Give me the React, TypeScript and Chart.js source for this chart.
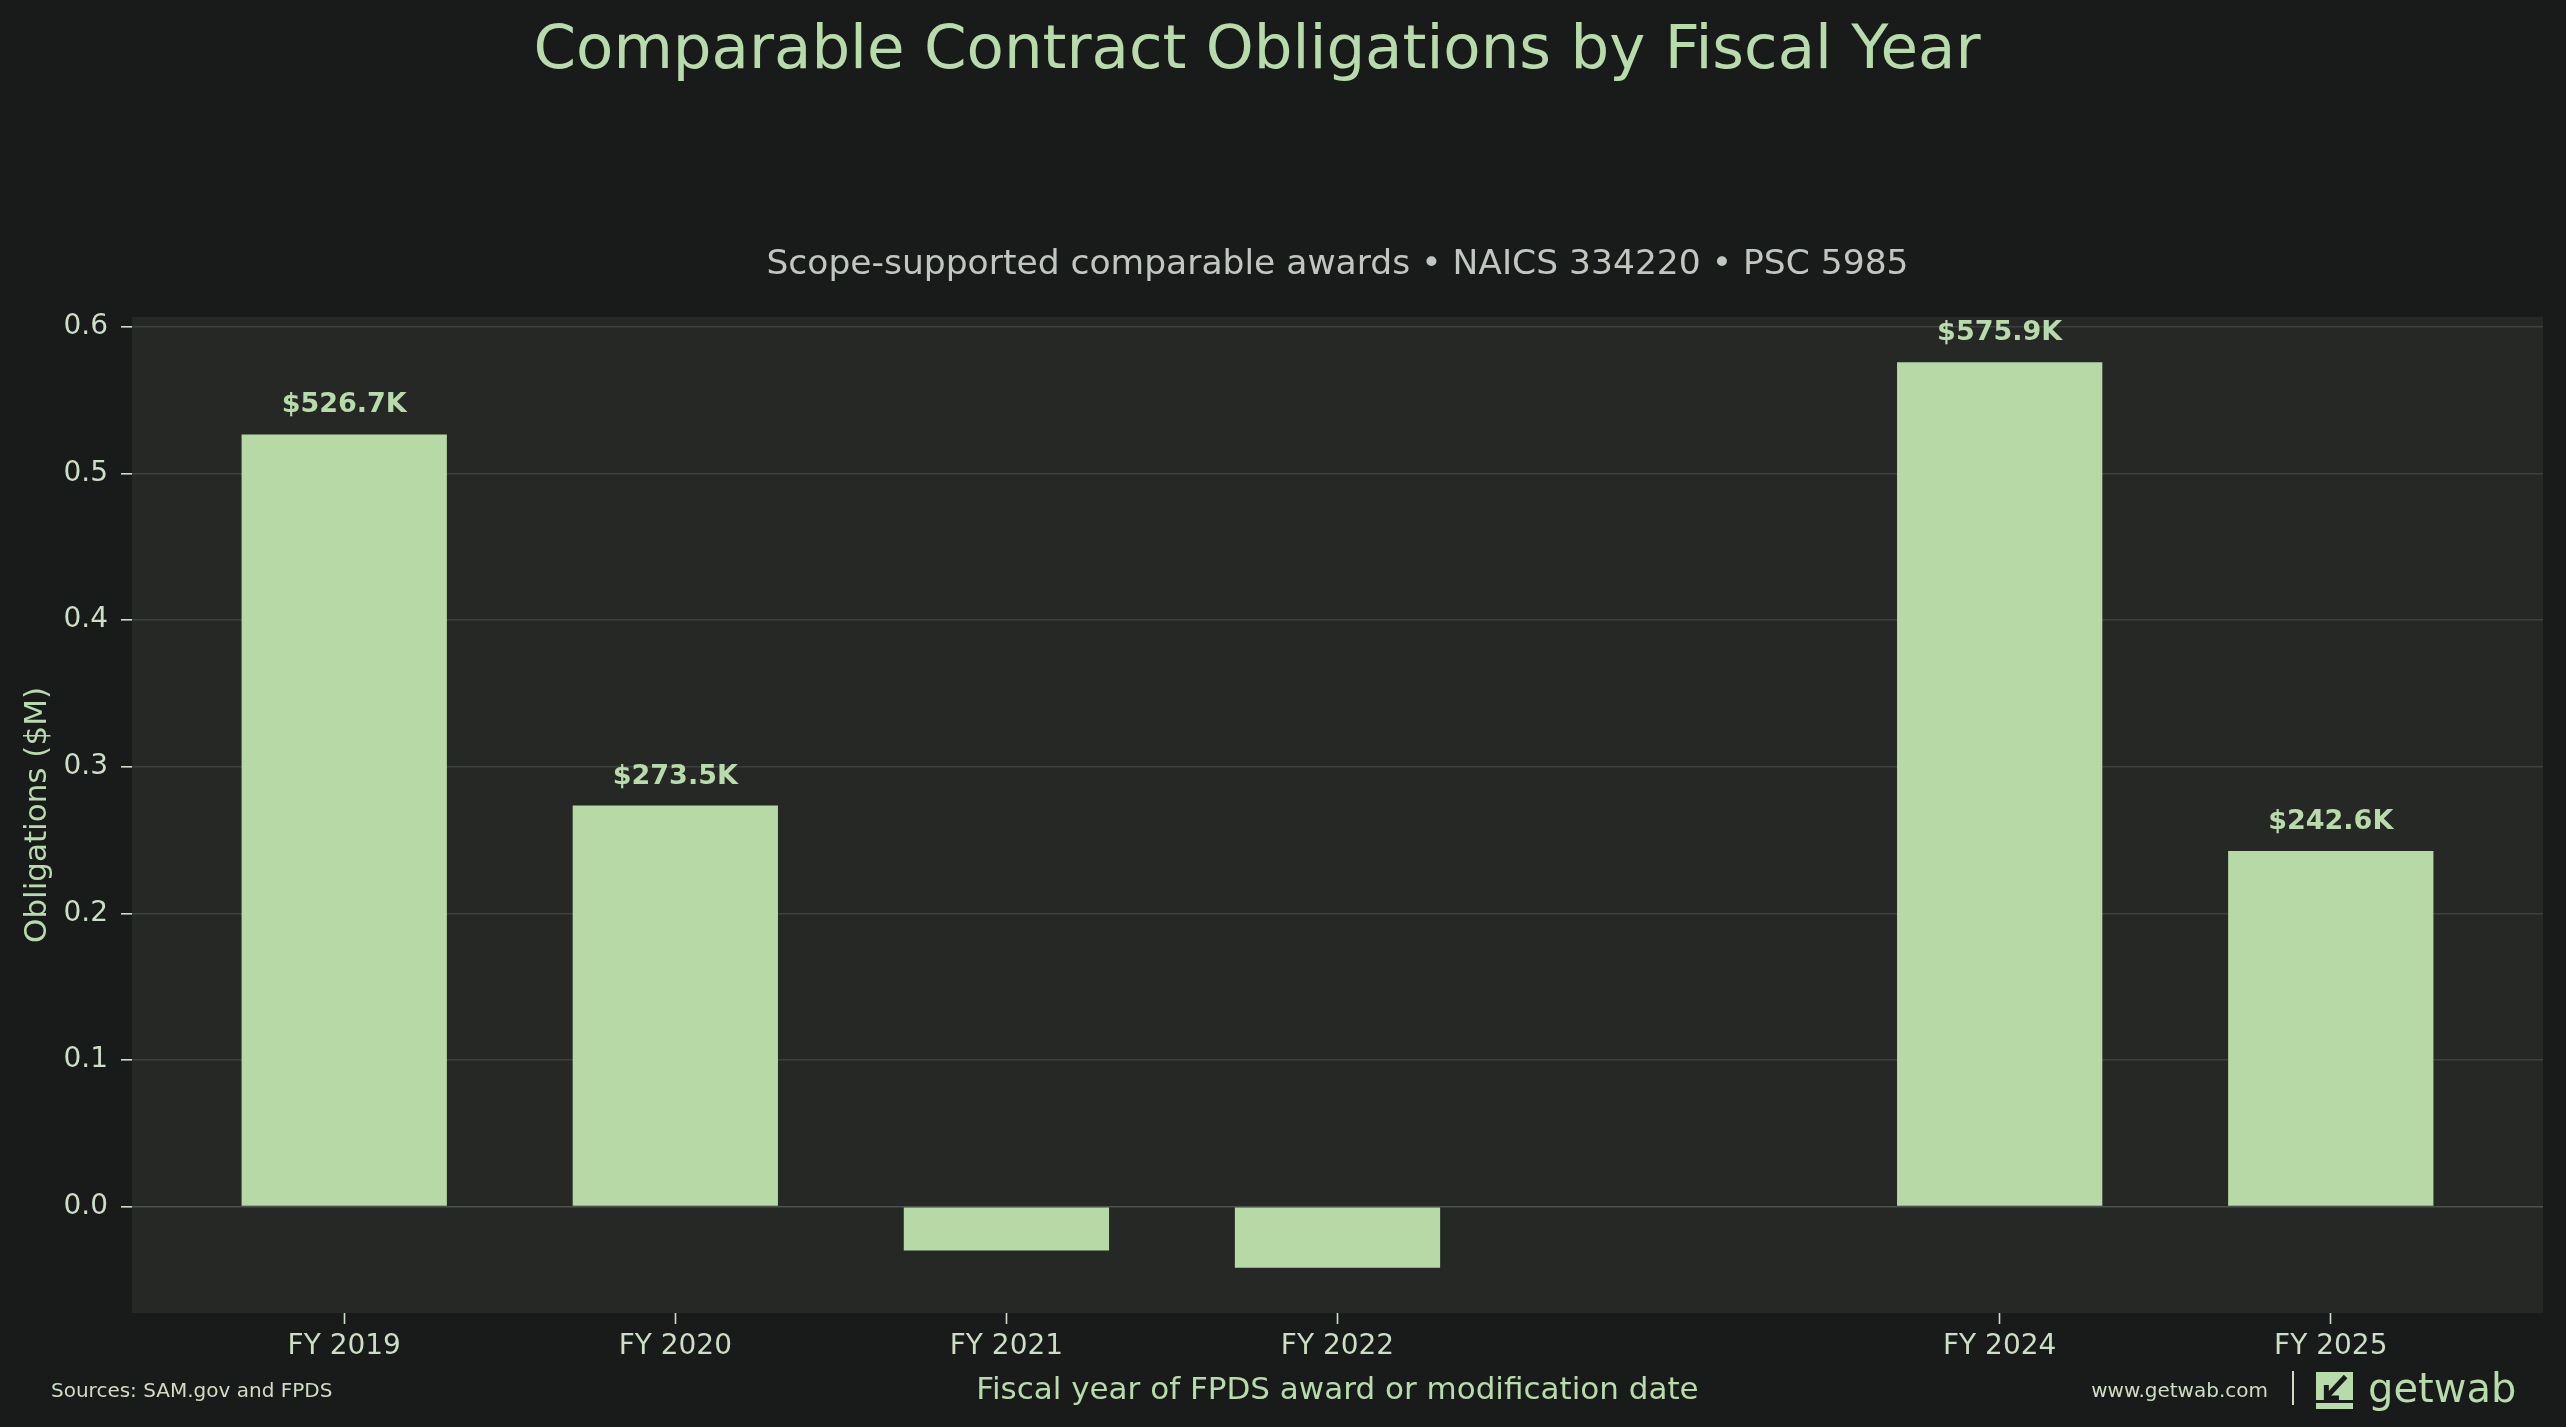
import { useEffect, useRef } from 'react'
import Chart from 'chart.js/auto'

// fiscal years with obligations (FY 2023 has no comparable awards)
const years = [2019, 2020, 2021, 2022, 2024, 2025]
// obligations in $M
const obligations = [0.5267, 0.2735, -0.030, -0.0417, 0.5759, 0.2426]
const yTicks = [0, 0.1, 0.2, 0.3, 0.4, 0.5, 0.6]

const TITLE = 'Comparable Contract Obligations by Fiscal Year'
const SUBTITLE = 'Scope-supported comparable awards • NAICS 334220 • PSC 5985'
const X_TITLE = 'Fiscal year of FPDS award or modification date'
const Y_TITLE = 'Obligations ($M)'
const SOURCES = 'Sources: SAM.gov and FPDS'
const SITE = 'www.getwab.com'
const BRAND = 'getwab'

const W = 2566
const H = 1427
const FONT = '"DejaVu Sans", "Noto Sans", sans-serif'
const BG = '#181b1a'
const PLOT_BG = '#262826'
const BAR = '#b6d9a6'
const GREEN = '#b8dbac'
const TICK_TXT = '#cbdfc4'
const GRID = '#3b413c'
const ZERO = '#4b514c'
const SUB = '#c2c6c1'

const BAR_W = 0.62
const xLo = years[0] - BAR_W / 2
const xHi = years[years.length - 1] + BAR_W / 2
const xPad = (xHi - xLo) * 0.05
const vMin = Math.min(...obligations)
const vMax = Math.max(...obligations)
const yPad = (vMax - vMin) * 0.05

const fmtK = (v: number) => '$' + (v * 1000).toFixed(1) + 'K'

const decor = {
  id: 'decor',
  beforeDraw(chart: any) {
    const { ctx, chartArea: a, width, height } = chart
    ctx.save()
    ctx.fillStyle = BG
    ctx.fillRect(0, 0, width, height)
    ctx.fillStyle = PLOT_BG
    ctx.fillRect(a.left, a.top, a.right - a.left, a.bottom - a.top)
    ctx.restore()
  },
  afterDatasetsDraw(chart: any) {
    const { ctx } = chart
    const meta = chart.getDatasetMeta(0)
    ctx.save()
    ctx.fillStyle = GREEN
    ctx.font = `bold 27px ${FONT}`
    ctx.textAlign = 'center'
    ctx.textBaseline = 'alphabetic'
    meta.data.forEach((bar: any, i: number) => {
      const v = obligations[i]
      if (v <= 0) return
      ctx.fillText(fmtK(v), bar.x, bar.y - 22)
    })
    ctx.restore()
  },
  afterDraw(chart: any) {
    const { ctx, chartArea: a, width, height } = chart
    ctx.save()
    ctx.textBaseline = 'alphabetic'
    // title
    ctx.fillStyle = GREEN
    ctx.font = `61px ${FONT}`
    ctx.textAlign = 'center'
    ctx.fillText(TITLE, width / 2 - 26, 68)
    // subtitle, centred on the plot
    ctx.fillStyle = SUB
    ctx.font = `34.5px ${FONT}`
    ctx.fillText(SUBTITLE, (a.left + a.right) / 2, a.top - 43)
    // footer
    ctx.fillStyle = TICK_TXT
    ctx.font = `20px ${FONT}`
    ctx.textAlign = 'left'
    ctx.fillText(SOURCES, 51, height - 30)
    ctx.textAlign = 'right'
    ctx.fillText(SITE, width - 298, height - 30)
    ctx.fillRect(width - 274, height - 56, 2, 34)
    // logo mark
    const lx = width - 250, ly = height - 55, ls = 37
    ctx.fillStyle = GREEN
    ctx.fillRect(lx, ly, ls, ls)
    ctx.strokeStyle = BG
    ctx.lineWidth = 5
    ctx.beginPath()
    ctx.moveTo(lx + ls * 0.8, ly + ls * 0.12)
    ctx.lineTo(lx + ls * 0.3, ly + ls * 0.66)
    ctx.stroke()
    ctx.beginPath()
    ctx.moveTo(lx + ls * 0.28, ly + ls * 0.35)
    ctx.lineTo(lx + ls * 0.28, ly + ls * 0.7)
    ctx.lineTo(lx + ls * 0.62, ly + ls * 0.7)
    ctx.stroke()
    ctx.beginPath()
    ctx.moveTo(lx, ly + ls * 0.8)
    ctx.lineTo(lx + ls, ly + ls * 0.8)
    ctx.lineWidth = 3
    ctx.stroke()
    ctx.fillStyle = GREEN
    ctx.font = `40px ${FONT}`
    ctx.textAlign = 'left'
    ctx.fillText(BRAND, width - 198, height - 25)
    ctx.restore()
  },
}

export default function App() {
  const ref = useRef<HTMLCanvasElement>(null)
  useEffect(() => {
    if (!ref.current) return
    const chart = new Chart(ref.current, {
      type: 'bar',
      data: {
        datasets: [{
          data: years.map((x, i) => ({ x, y: obligations[i] })),
          backgroundColor: BAR,
          borderWidth: 0,
          barPercentage: BAR_W,
          categoryPercentage: 1,
        }],
      },
      options: {
        animation: false,
        responsive: false,
        devicePixelRatio: 1,
        events: [],
        layout: { padding: { top: 317, right: 23, bottom: 0, left: 0 } },
        plugins: { legend: { display: false }, tooltip: { enabled: false }, title: { display: false } },
        scales: {
          x: {
            type: 'linear',
            bounds: 'data',
            offset: false,
            min: xLo - xPad,
            max: xHi + xPad,
            afterBuildTicks: (s: any) => { s.ticks = years.map(v => ({ value: v })) },
            afterFit: (s: any) => { s.height = 114 },
            ticks: {
              callback: (v: any) => 'FY ' + v,
              color: TICK_TXT,
              font: { family: FONT, size: 28 },
              padding: 6,
              maxRotation: 0,
              autoSkip: false,
            },
            grid: { offset: false, drawOnChartArea: false, drawTicks: true, tickLength: 11, tickColor: TICK_TXT, tickWidth: 1.6 },
            border: { display: false },
            title: { display: true, text: X_TITLE, color: GREEN, font: { family: FONT, size: 31 }, padding: { top: 0, bottom: 17 } },
          },
          y: {
            type: 'linear',
            bounds: 'data',
            min: vMin - yPad,
            max: vMax + yPad,
            afterBuildTicks: (s: any) => { s.ticks = yTicks.map(v => ({ value: v })) },
            afterFit: (s: any) => { s.width = 132 },
            ticks: {
              callback: (v: any) => Number(v).toFixed(1),
              color: TICK_TXT,
              font: { family: FONT, size: 28 },
              padding: 13,
            },
            grid: {
              color: (c: any) => (c.tick && c.tick.value === 0 ? ZERO : GRID),
              lineWidth: 1.6,
              drawTicks: true,
              tickLength: 11,
              tickColor: TICK_TXT,
              tickWidth: 1.6,
            },
            border: { display: false },
            title: { display: true, text: Y_TITLE, color: GREEN, font: { family: FONT, size: 31 }, padding: { top: 19, bottom: 0 } },
          },
        },
      },
      plugins: [decor],
    } as any)
    return () => chart.destroy()
  }, [])
  return (
    <div style={{ position: 'absolute', left: 0, top: 0, width: W, height: H, background: BG }}>
      <canvas ref={ref} width={W} height={H} style={{ display: 'block', width: W, height: H }} />
    </div>
  )
}
